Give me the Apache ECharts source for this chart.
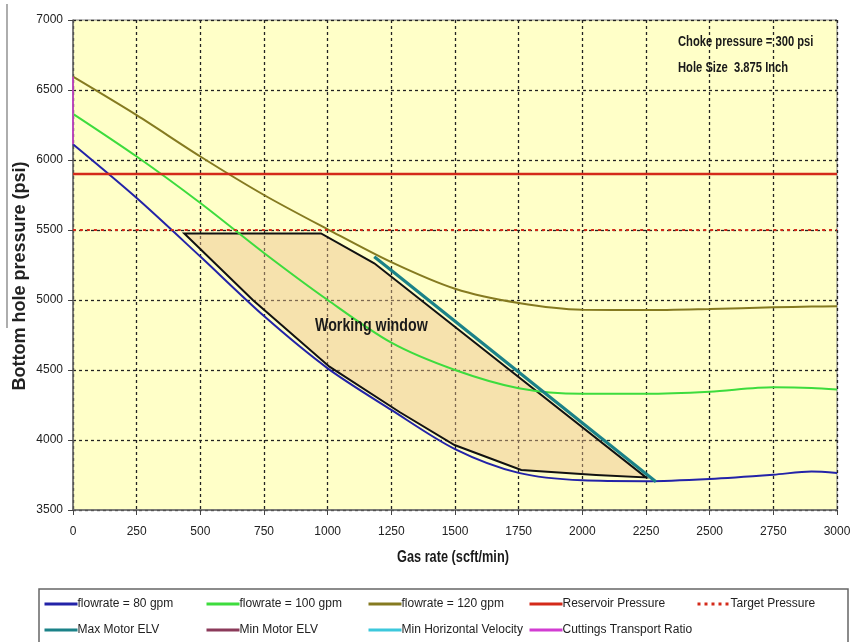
<!DOCTYPE html>
<html>
<head>
<meta charset="utf-8">
<script src="https://cdn.jsdelivr.net/npm/echarts@6/dist/echarts.min.js"></script>
<style>
  html, body { margin: 0; padding: 0; background: #fff; }
  #chart { width: 850px; height: 642px; }
</style>
</head>
<body>
<div id="chart"></div>
<script>
const FONT = "'Liberation Sans', Arial, sans-serif"

// gas rate samples (scft/min)
const gasRate = [0, 250, 500, 750, 1000, 1250, 1500, 1750, 2000, 2250, 2500, 2750, 2900, 3000]
// bottom hole pressure (psi) per flowrate
const bhp80 = [6112, 5728, 5310, 4885, 4512, 4215, 3935, 3765, 3712, 3706, 3722, 3752, 3775, 3765]
const bhp100 = [6330, 6025, 5693, 5336, 5000, 4695, 4500, 4370, 4330, 4330, 4345, 4376, 4372, 4360]
const bhp120 = [6595, 6320, 6025, 5750, 5505, 5270, 5080, 4978, 4930, 4928, 4936, 4948, 4953, 4955]

const reservoirPressure = 5900
const targetPressure = 5500

// Max motor ELV line
const maxMotorX = [1183, 2289]
const maxMotorY = [5309, 3702]

// cuttings transport ratio (vertical at zero gas rate)
const cuttingsX = [0, 0]
const cuttingsY = [6112, 6595]

// working window outline
const windowX = [437, 974, 1183, 2250, 2054, 1760, 1498, 1282, 1007, 706, 437]
const windowY = [5475, 5475, 5262, 3733, 3750, 3786, 3964, 4200, 4524, 5000, 5475]

const xTicks = { min: 0, max: 3000, interval: 250 }
const yTicks = { min: 3500, max: 7000, interval: 500 }

const pairs = (xs, ys) => xs.map((x, i) => [x, ys[i]])

const chart = echarts.init(document.getElementById('chart'))

const lineSeries = (name, data, color, width, extra = {}) => ({
  name,
  type: 'line',
  data,
  symbol: 'none',
  smooth: 0.3,
  lineStyle: { color, width, ...(extra.lineStyle || {}) },
  itemStyle: { color },
  z: extra.z || 3
})

const legendItem = (name, left, top) => ({
  data: [name],
  left,
  top,
  itemWidth: 33,
  itemHeight: 10,
  padding: 0,
  itemStyle: { opacity: 0 },
  lineStyle: { width: 3 },
  textStyle: { fontFamily: FONT, fontSize: 12, color: '#222', padding: [0, 0, 0, -5] }
})

// narrow bold annotation text (the original uses a condensed face)
const note = (text, x, y, size, sx, extra = {}) => ({
  type: 'text',
  x, y,
  scaleX: sx,
  z: 100,
  style: { text, font: `bold ${size}px ${FONT}`, fill: '#1a1a1a', verticalAlign: 'middle', ...extra }
})

const option = {
  backgroundColor: '#fff',
  animation: false,
  grid: {
    left: 73,
    right: 13,
    top: 20,
    bottom: 132,
    outerBoundsMode: 'none',
    containLabel: false,
    show: true,
    backgroundColor: '#ffffc8',
    borderColor: '#888',
    borderWidth: 1
  },
  xAxis: {
    type: 'value',
    ...xTicks,
    axisLine: { lineStyle: { color: '#666', width: 1.5 } },
    axisTick: { length: 5, lineStyle: { color: '#444' } },
    axisLabel: { fontFamily: FONT, fontSize: 12, color: '#222', margin: 16, formatter: v => String(v) },
    splitLine: { lineStyle: { color: '#222', type: [3, 3], width: 1.3 } }
  },
  yAxis: {
    type: 'value',
    ...yTicks,
    axisLine: { lineStyle: { color: '#666', width: 1.5 } },
    axisTick: { length: 5, lineStyle: { color: '#444' } },
    axisLabel: { fontFamily: FONT, fontSize: 12, color: '#222', margin: 10, formatter: v => String(v) },
    splitLine: { lineStyle: { color: '#222', type: [3, 3], width: 1.3 } }
  },
  legend: [
    legendItem('flowrate = 80 gpm', 43, 598),
    legendItem('flowrate = 100 gpm', 205, 598),
    legendItem('flowrate = 120 gpm', 367, 598),
    legendItem('Reservoir Pressure', 528, 598),
    legendItem('Target Pressure', 696, 598),
    legendItem('Max Motor ELV', 43, 624),
    legendItem('Min Motor ELV', 205, 624),
    legendItem('Min Horizontal Velocity', 367, 624),
    legendItem('Cuttings Transport Ratio', 528, 624)
  ],
  graphic: [
    { type: 'rect', shape: { x: 39, y: 589, width: 809, height: 60 }, style: { fill: '#fff', stroke: '#666', lineWidth: 1.5 }, z: -1 },
    { type: 'line', shape: { x1: 7, y1: 4, x2: 7, y2: 328 }, style: { stroke: '#777', lineWidth: 1.2 } },
    {
      type: 'text', x: 20, y: 276, rotation: Math.PI / 2,
      style: { text: 'Bottom hole pressure (psi)', font: `bold 18px ${FONT}`, fill: '#222', align: 'center', verticalAlign: 'middle' }
    },
    note('Gas rate (scft/min)', 397, 557, 17, 0.75),
    note('Choke pressure = 300 psi', 678, 42, 14, 0.8),
    note('Hole Size  3.875 Inch', 678, 68, 14, 0.8),
    note('Working window', 315, 326, 18, 0.79)
  ],
  series: [
    {
      name: 'Working window',
      type: 'custom',
      data: pairs(windowX, windowY),
      encode: { x: 0, y: 1 },
      z: 2,
      renderItem: (params, api) => {
        if (params.dataIndex !== 0) return
        const pts = windowX.map((x, i) => api.coord([x, windowY[i]]))
        return {
          type: 'polygon',
          shape: { points: pts },
          style: { fill: 'rgba(235,190,140,0.45)', stroke: '#111', lineWidth: 2 }
        }
      }
    },
    lineSeries('flowrate = 80 gpm', pairs(gasRate, bhp80), '#2323a8', 2),
    lineSeries('flowrate = 100 gpm', pairs(gasRate, bhp100), '#3ddc3d', 2),
    lineSeries('flowrate = 120 gpm', pairs(gasRate, bhp120), '#857a20', 2),
    lineSeries('Reservoir Pressure', [[xTicks.min, reservoirPressure], [xTicks.max, reservoirPressure]], '#d42a1a', 2.5),
    lineSeries('Target Pressure', [[xTicks.min, targetPressure], [xTicks.max, targetPressure]], '#d42a1a', 2.2, { lineStyle: { type: [3, 4] } }),
    lineSeries('Max Motor ELV', pairs(maxMotorX, maxMotorY), '#1b8288', 3.2, { z: 4 }),
    lineSeries('Min Motor ELV', [], '#8b3a5a', 3),
    lineSeries('Min Horizontal Velocity', [], '#3cc8dc', 3),
    lineSeries('Cuttings Transport Ratio', pairs(cuttingsX, cuttingsY), '#d23cd2', 1.5)
  ]
}

chart.setOption(option)
</script>
</body>
</html>
